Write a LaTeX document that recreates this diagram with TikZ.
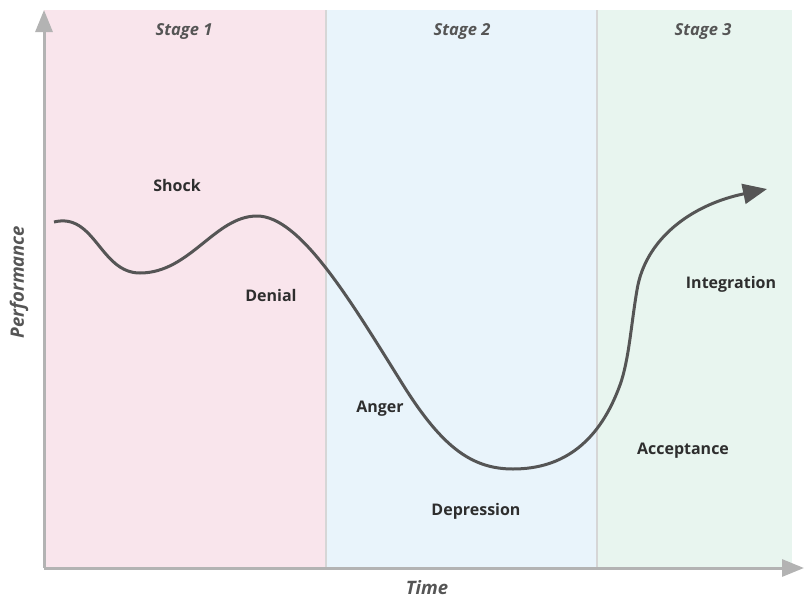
\documentclass[tikz,border=0pt]{standalone}
\usepackage{fontspec}
\setmainfont{Open Sans}
\usetikzlibrary{arrows.meta}
\definecolor{pinkbg}{HTML}{F9E5EC}
\definecolor{bluebg}{HTML}{E9F4FB}
\definecolor{greenbg}{HTML}{E8F5EF}
\definecolor{axisgray}{HTML}{B3B3B3}
\definecolor{divgray}{HTML}{D6D6D6}
\definecolor{curvegray}{HTML}{555555}
\definecolor{labeldark}{HTML}{2E2E2E}
\definecolor{stagegray}{HTML}{555555}
\tikzset{
  stagelabel/.style={font=\fontsize{16.5}{19}\selectfont\bfseries\itshape, text=stagegray},
  phaselabel/.style={font=\fontsize{16}{19}\selectfont\bfseries, text=labeldark},
  axislabel/.style={font=\fontsize{18.5}{22}\selectfont\bfseries\itshape, text=stagegray, inner sep=1pt},
  axisline/.style={draw=axisgray, line width=3pt, -{Triangle[length=22pt,width=17pt]}},
  divider/.style={draw=divgray, line width=2.5pt},
  curveline/.style={draw=curvegray, line width=3pt, -{Triangle[length=24pt,width=20pt]}}
}
\begin{document}
\begin{tikzpicture}[x=1pt,y=-1pt]
\useasboundingbox (0,0) rectangle (804,600);
% backgrounds
\fill[pinkbg] (44,10) rectangle (326,568);
\fill[bluebg] (326,10) rectangle (597,568);
\fill[greenbg] (597,10) rectangle (792,568);
% dividers
\coordinate (d1t) at (326,10); \coordinate (d1b) at (326,568);
\coordinate (d2t) at (597,10); \coordinate (d2b) at (597,568);
\draw[divider] (d1t) -- (d1b);
\draw[divider] (d2t) -- (d2b);
% axes
\coordinate (origin) at (44,568);
\coordinate (ytip) at (44,10);
\coordinate (xtip) at (804,568);
\draw[axisline] (origin) -- (ytip);
\draw[axisline] (origin) -- (xtip);
% stage labels
\node[stagelabel] (s1) at (184,32) {Stage 1};
\node[stagelabel] (s2) at (462,32) {Stage 2};
\node[stagelabel] (s3) at (703,32) {Stage 3};
% axis labels
\node[axislabel] (time) at (427,588) {Time};
\node[axislabel, rotate=90] (perf) at (19,282) {Performance};
% phase labels
\node[phaselabel] (shock) at (177,185) {Shock};
\node[phaselabel] (denial) at (271,295) {Denial};
\node[phaselabel] (anger) at (380,409) {Anger};
\node[phaselabel] (depr) at (476,511) {Depression};
\node[phaselabel] (accept) at (683,451) {Acceptance};
\node[phaselabel] (integ) at (731,284) {Integration};
% curve
\coordinate (c0) at (54,222);
\coordinate (c1) at (140,273);
\coordinate (c2) at (257,216);
\coordinate (c3) at (400,380);
\coordinate (c4) at (513,469);
\coordinate (c5) at (620,385);
\coordinate (c6) at (637,290);
\coordinate (c7) at (767,189);
\draw[curveline] (c0) .. controls (95,212) and (100,273) .. (c1)
  .. controls (190,273) and (215,216) .. (c2)
  .. controls (300,216) and (350,300) .. (c3)
  .. controls (440,445) and (470,469) .. (c4)
  .. controls (565,469) and (600,440) .. (c5)
  .. controls (629,360) and (631,325) .. (c6)
  .. controls (645,240) and (690,205) .. (c7);
\end{tikzpicture}
\end{document}
